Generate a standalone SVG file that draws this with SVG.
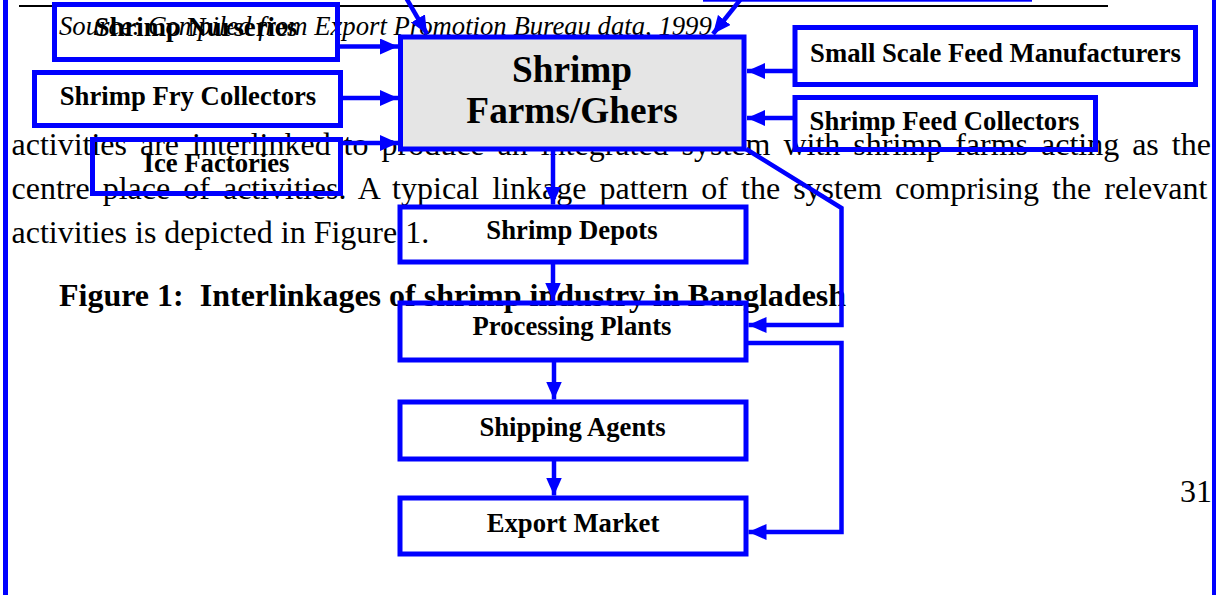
<svg xmlns="http://www.w3.org/2000/svg" width="1216" height="595" viewBox="0 0 1216 595">
  <style>
    .body { font-family: "Liberation Serif", "Times New Roman", serif; font-size: 32px; fill: #000; }
    .src { font-family: "Liberation Serif", "Times New Roman", serif; font-size: 26.7px; font-style: italic; fill: #000; }
    .cap { font-family: "Liberation Serif", "Times New Roman", serif; font-size: 32px; font-weight: bold; fill: #000; }
    .lbl { font-family: "Liberation Serif", "Times New Roman", serif; font-size: 26.7px; font-weight: bold; fill: #000; text-anchor: middle; }
    .big { font-family: "Liberation Serif", "Times New Roman", serif; font-size: 37.3px; font-weight: bold; fill: #000; text-anchor: middle; }
    .box { fill: none; stroke: #0000ff; stroke-width: 5; }
    .hub { fill: #e5e5e5; stroke: #0000ff; stroke-width: 5; }
    .wire { fill: none; stroke: #0000ff; stroke-width: 4.5; stroke-linejoin: miter; }
    .frame { stroke: #0000ff; stroke-width: 5; }
  </style>
  <defs>
    <marker id="arrow" markerUnits="userSpaceOnUse" markerWidth="19" markerHeight="17" refX="18" refY="8" orient="auto">
      <path d="M0,0 L18,8 L0,16 Z" fill="#0000ff"/>
    </marker>
  </defs>

  <rect width="1216" height="595" fill="#ffffff"/>

  <!-- page text behind the figure -->
  <g id="page-text">
    <line x1="19" y1="6" x2="1108" y2="6" stroke="#000" stroke-width="1.8"/>
    <text class="src" x="59" y="35">Source: Compiled from Export Promotion Bureau data, 1999</text>
    <text class="body" x="11.5" y="155" word-spacing="4.97">activities are interlinked to produce an integrated system with shrimp farms acting as the</text>
    <text class="body" x="11.5" y="199" word-spacing="5.04">centre place of activities. A typical linkage pattern of the system comprising the relevant</text>
    <text class="body" x="11.5" y="243">activities is depicted in Figure 1.</text>
    <text class="cap" x="59" y="306">Figure 1:&#160; Interlinkages of shrimp industry in Bangladesh</text>
    <text class="body" x="1212" y="502" font-size="26.7" text-anchor="end">31</text>
  </g>

  <!-- text-box frame sides -->
  <g id="frame">
    <line class="frame" x1="5.5" y1="0" x2="5.5" y2="595"/>
    <line class="frame" x1="1214.5" y1="0" x2="1214.5" y2="595"/>
  </g>

  <!-- connectors -->
  <g id="connectors">
    <path class="wire" d="M390,-30 L427,34" marker-end="url(#arrow)"/>
    <path class="wire" d="M764,-30 L713,34" marker-end="url(#arrow)"/>
    <path class="wire" d="M340,46.5 L398,46.5" marker-end="url(#arrow)"/>
    <path class="wire" d="M343,98 L398,98" marker-end="url(#arrow)"/>
    <path class="wire" d="M343,143 L398,143" marker-end="url(#arrow)"/>
    <path class="wire" d="M795,71 L747,71" marker-end="url(#arrow)"/>
    <path class="wire" d="M795,118 L747,118" marker-end="url(#arrow)"/>
    <path class="wire" d="M553,149 L553,204.5" marker-end="url(#arrow)"/>
    <path class="wire" d="M746,149 L841.5,208 L841.5,325 L748.5,325" marker-end="url(#arrow)"/>
    <path class="wire" d="M553,262 L553,300.5" marker-end="url(#arrow)"/>
    <path class="wire" d="M554,360 L554,399.5" marker-end="url(#arrow)"/>
    <path class="wire" d="M554,459 L554,495.5" marker-end="url(#arrow)"/>
    <path class="wire" d="M746,343 L841.5,343 L841.5,532 L748.5,532" marker-end="url(#arrow)"/>
  </g>

  <!-- nodes -->
  <g id="node-upper">
    <rect class="box" x="705.5" y="-60" width="324" height="59.2"/>
  </g>
  <g id="node-nurseries">
    <rect class="box" x="54.5" y="4.5" width="283" height="55"/>
    <text class="lbl" x="196" y="36">Shrimp Nurseries</text>
  </g>
  <g id="node-fry">
    <rect class="box" x="34.5" y="72.5" width="306" height="53"/>
    <text class="lbl" x="188" y="105">Shrimp Fry Collectors</text>
  </g>
  <g id="node-ice">
    <rect class="box" x="92.5" y="139.5" width="248" height="54"/>
    <text class="lbl" x="216.5" y="171.5">Ice Factories</text>
  </g>
  <g id="node-farms">
    <rect class="hub" x="400.5" y="37" width="343.5" height="112"/>
    <text class="big" x="572" y="82">Shrimp</text>
    <text class="big" x="572" y="123">Farms/Ghers</text>
  </g>
  <g id="node-feed-makers">
    <rect class="box" x="795" y="27.5" width="400.5" height="57"/>
    <text class="lbl" x="995.5" y="62">Small Scale Feed Manufacturers</text>
  </g>
  <g id="node-feed-collectors">
    <rect class="box" x="795" y="97.5" width="300.5" height="52"/>
    <text class="lbl" x="944.5" y="130">Shrimp Feed Collectors</text>
  </g>
  <g id="node-depots">
    <rect class="box" x="400" y="207" width="346" height="55"/>
    <text class="lbl" x="572" y="239">Shrimp Depots</text>
  </g>
  <g id="node-processing">
    <rect class="box" x="400" y="303" width="346" height="57"/>
    <text class="lbl" x="572" y="335">Processing Plants</text>
  </g>
  <g id="node-shipping">
    <rect class="box" x="400" y="402" width="346" height="57"/>
    <text class="lbl" x="572.5" y="436">Shipping Agents</text>
  </g>
  <g id="node-export">
    <rect class="box" x="400" y="498" width="346" height="56"/>
    <text class="lbl" x="573" y="532">Export Market</text>
  </g>
</svg>
